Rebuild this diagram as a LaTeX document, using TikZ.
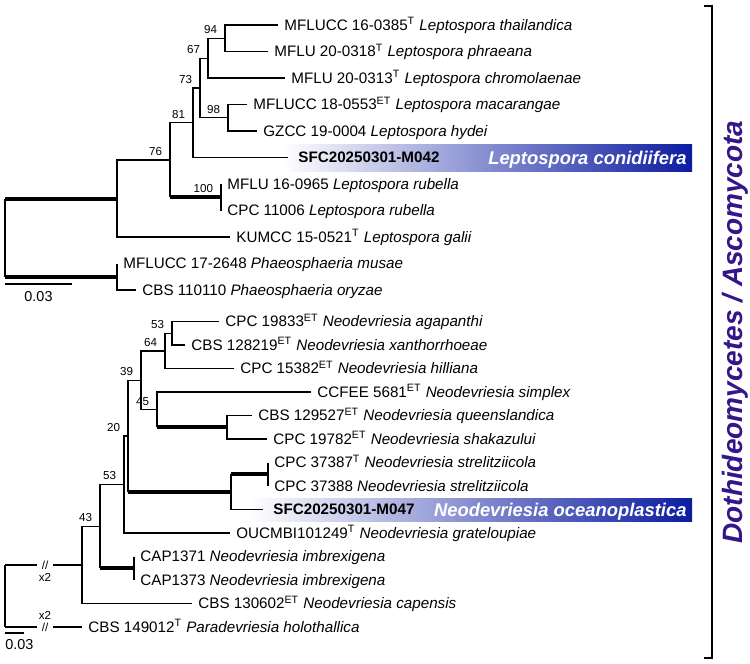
\documentclass[tikz,border=0pt]{standalone}
\usepackage{fontspec}
\setmainfont{Liberation Sans}

\definecolor{boxblue}{RGB}{12,28,160}
\definecolor{cladeviolet}{RGB}{52,22,138}
\newcommand{\typeT}{\textsuperscript{T}}
\newcommand{\typeET}{\textsuperscript{ET}}

\begin{document}
\begin{tikzpicture}[
  x=0.5pt, y=-0.5pt,
  font=\fontsize{7.6}{9}\selectfont,
  br/.style={line width=0.6pt},
  thk/.style={line width=2pt},
  taxon/.style={anchor=base west, inner sep=0pt, xshift=3pt, yshift=-2.7pt},
  newtaxon/.style={anchor=base west, inner sep=0pt, xshift=5pt, yshift=-2.7pt, font=\fontsize{7.6}{9}\selectfont\bfseries},
  boot/.style={anchor=base east, inner sep=0pt, xshift=-3.75pt, yshift=2.3pt, font=\fontsize{5.8}{7}\selectfont},
  hlbox/.style={left color=white, right color=boxblue, draw=none},
  hlname/.style={anchor=base east, inner sep=0pt, yshift=-3.3pt, text=white, font=\fontsize{9.2}{11}\selectfont\bfseries\itshape},
  brk/.style={inner sep=0pt, font=\fontsize{5.8}{7}\selectfont},
  scalelab/.style={inner sep=0pt, font=\fontsize{7.2}{8.6}\selectfont}
]
\useasboundingbox (0,0) rectangle (750,664);
\fill[white] (0,0) rectangle (750,664);

% Highlight boxes
\shade[hlbox] (283,144) rectangle (692,171);
\shade[hlbox] (250,498) rectangle (692,521);

% Leptospora tree: internal nodes
\coordinate (r1) at (5,237.6);
\coordinate (nA) at (117,198.5);
\coordinate (nPh) at (117,276.75);
\coordinate (n76) at (170,160);
\coordinate (n81) at (193,122.7);
\coordinate (n73) at (200,87.9);
\coordinate (n67) at (208,58.1);
\coordinate (n94) at (225,38.25);
\coordinate (n98) at (228,117.75);
\coordinate (n100) at (221,197.25);

% Leptospora tree: tips
\coordinate (t1) at (278,25);
\coordinate (t2) at (268,51.5);
\coordinate (t3) at (285,78);
\coordinate (t4) at (247,104.5);
\coordinate (t5) at (257,131);
\coordinate (t6) at (288,157.5);
\coordinate (t7) at (221,184);
\coordinate (t8) at (221,210.5);
\coordinate (t9) at (230,237);
\coordinate (t10) at (117,263.5);
\coordinate (t11) at (136,290);

% Leptospora tree: branches
\draw[thk] (nA) -- (nA -| r1);
\draw[thk] (nPh) -- (nPh -| r1);
\draw[br] (nA -| r1) -- (nPh -| r1);
\draw[br] (n76) -| (nA);
\draw[br] (t9) -| (nA);
\draw[br] (n81) -| (n76);
\draw[thk] (n100) -- (n100 -| n76);
\draw[br] (n100 -| n76) -- (n76);
\draw[br] (n73) -| (n81);
\draw[br] (t6) -| (n81);
\draw[br] (n67) -| (n73);
\draw[br] (n98) -| (n73);
\draw[br] (n94) -| (n67);
\draw[br] (t3) -| (n67);
\draw[br] (t1) -| (n94);
\draw[br] (t2) -| (n94);
\draw[br] (t4) -| (n98);
\draw[br] (t5) -| (n98);
\draw[br] (t7) -| (n100);
\draw[br] (t8) -| (n100);
\draw[br] (t10) -| (nPh);
\draw[br] (t11) -| (nPh);

% Leptospora tree: support values
\node[boot] (s94) at (n94) {94};
\node[boot] (s67) at (n67) {67};
\node[boot] (s73) at (n73) {73};
\node[boot] (s98) at (n98) {98};
\node[boot] (s81) at (n81) {81};
\node[boot] (s76) at (n76) {76};
\node[boot] (s100) at (n100) {100};

% Leptospora tree: taxa
\node[taxon] (l1) at (t1) {MFLUCC 16-0385\typeT\ \textit{Leptospora thailandica}};
\node[taxon] (l2) at (t2) {MFLU 20-0318\typeT\ \textit{Leptospora phraeana}};
\node[taxon] (l3) at (t3) {MFLU 20-0313\typeT\ \textit{Leptospora chromolaenae}};
\node[taxon] (l4) at (t4) {MFLUCC 18-0553\typeET\ \textit{Leptospora macarangae}};
\node[taxon] (l5) at (t5) {GZCC 19-0004 \textit{Leptospora hydei}};
\node[newtaxon] (l6) at (t6) {SFC20250301-M042};
\node[taxon] (l7) at (t7) {MFLU 16-0965 \textit{Leptospora rubella}};
\node[taxon] (l8) at (t8) {CPC 11006 \textit{Leptospora rubella}};
\node[taxon] (l9) at (t9) {KUMCC 15-0521\typeT\ \textit{Leptospora galii}};
\node[taxon] (l10) at (t10) {MFLUCC 17-2648 \textit{Phaeosphaeria musae}};
\node[taxon] (l11) at (t11) {CBS 110110 \textit{Phaeosphaeria oryzae}};
\node[hlname] (sp1) at (687,157.5) {Leptospora conidiifera};

% Leptospora tree: scale
\coordinate (sc1a) at (5,284);
\coordinate (sc1b) at (72,284);
\draw[br] (sc1a) -- (sc1b);
\node[scalelab] (sc1) at (38.5,297) {0.03};

% Neodevriesia tree: internal nodes
\coordinate (r2) at (5,596);
\coordinate (nX) at (82,565);
\coordinate (n43) at (100,526.4);
\coordinate (nImb) at (134,568.25);
\coordinate (n53b) at (124,484.5);
\coordinate (n20) at (128,436);
\coordinate (nOc) at (231,491.9);
\coordinate (nStr) at (268,474.25);
\coordinate (n39) at (141,380.2);
\coordinate (n45) at (157,409.6);
\coordinate (nQ) at (227,427.25);
\coordinate (n64) at (165,350.9);
\coordinate (n53a) at (172,333.25);

% Neodevriesia tree: tips
\coordinate (b1) at (219,321.5);
\coordinate (b2) at (185,345);
\coordinate (b3) at (234,368.5);
\coordinate (b4) at (311,392);
\coordinate (b5) at (252,415.5);
\coordinate (b6) at (267,439);
\coordinate (b7) at (268,462.5);
\coordinate (b8) at (268,486);
\coordinate (b9) at (263,509.5);
\coordinate (b10) at (230,533);
\coordinate (b11) at (134,556.5);
\coordinate (b12) at (134,580);
\coordinate (b13) at (192,603.5);
\coordinate (b14) at (82,627);

% Neodevriesia tree: broken basal branches
\coordinate (k1a) at (37,565);
\coordinate (k1b) at (53,565);
\coordinate (k2a) at (37,627);
\coordinate (k2b) at (53,627);
\draw[br] (nX -| r2) -- (b14 -| r2);
\draw[br] (nX -| r2) -- (k1a);
\draw[br] (k1b) -- (nX);
\draw[br] (b14 -| r2) -- (k2a);
\draw[br] (k2b) -- (b14);
\node[brk] (cut1) at (45,565) {//};
\node[brk] (cut2) at (45,627) {//};
\node[brk] (x2a) at (45,577) {x2};
\node[brk] (x2b) at (45,615) {x2};

% Neodevriesia tree: branches
\draw[br] (n43) -| (nX);
\draw[br] (b13) -| (nX);
\draw[br] (n53b) -| (n43);
\draw[thk] (nImb) -- (nImb -| n43);
\draw[br] (nImb -| n43) -- (n43);
\draw[br] (b11) -| (nImb);
\draw[br] (b12) -| (nImb);
\draw[br] (n20) -| (n53b);
\draw[br] (b10) -| (n53b);
\draw[br] (n39) -| (n20);
\draw[thk] (nOc) -- (nOc -| n20);
\draw[br] (nOc -| n20) -- (n20);
\draw[thk] (nStr) -- (nStr -| nOc);
\draw[br] (nStr -| nOc) -- (nOc);
\draw[br] (b9) -| (nOc);
\draw[br] (b7) -| (nStr);
\draw[br] (b8) -| (nStr);
\draw[br] (n64) -| (n39);
\draw[br] (n45) -| (n39);
\draw[br] (b4) -| (n45);
\draw[thk] (nQ) -- (nQ -| n45);
\draw[br] (nQ -| n45) -- (n45);
\draw[br] (b5) -| (nQ);
\draw[br] (b6) -| (nQ);
\draw[br] (n53a) -| (n64);
\draw[br] (b3) -| (n64);
\draw[br] (b1) -| (n53a);
\draw[br] (b2) -| (n53a);

% Neodevriesia tree: support values
\node[boot] (s53a) at (n53a) {53};
\node[boot] (s64) at (n64) {64};
\node[boot] (s39) at (n39) {39};
\node[boot] (s45) at (n45) {45};
\node[boot] (s20) at (n20) {20};
\node[boot] (s53b) at (n53b) {53};
\node[boot] (s43) at (n43) {43};

% Neodevriesia tree: taxa
\node[taxon] (m1) at (b1) {CPC 19833\typeET\ \textit{Neodevriesia agapanthi}};
\node[taxon] (m2) at (b2) {CBS 128219\typeET\ \textit{Neodevriesia xanthorrhoeae}};
\node[taxon] (m3) at (b3) {CPC 15382\typeET\ \textit{Neodevriesia hilliana}};
\node[taxon] (m4) at (b4) {CCFEE 5681\typeET\ \textit{Neodevriesia simplex}};
\node[taxon] (m5) at (b5) {CBS 129527\typeET\ \textit{Neodevriesia queenslandica}};
\node[taxon] (m6) at (b6) {CPC 19782\typeET\ \textit{Neodevriesia shakazului}};
\node[taxon] (m7) at (b7) {CPC 37387\typeT\ \textit{Neodevriesia strelitziicola}};
\node[taxon] (m8) at (b8) {CPC 37388 \textit{Neodevriesia strelitziicola}};
\node[newtaxon] (m9) at (b9) {SFC20250301-M047};
\node[taxon] (m10) at (b10) {OUCMBI101249\typeT\ \textit{Neodevriesia grateloupiae}};
\node[taxon] (m11) at (b11) {CAP1371 \textit{Neodevriesia imbrexigena}};
\node[taxon] (m12) at (b12) {CAP1373 \textit{Neodevriesia imbrexigena}};
\node[taxon] (m13) at (b13) {CBS 130602\typeET\ \textit{Neodevriesia capensis}};
\node[taxon] (m14) at (b14) {CBS 149012\typeT\ \textit{Paradevriesia holothallica}};
\node[hlname] (sp2) at (687,509.5) {Neodevriesia oceanoplastica};

% Neodevriesia tree: scale
\coordinate (sc2a) at (5,633);
\coordinate (sc2b) at (24,633);
\draw[br] (sc2a) -- (sc2b);
\node[scalelab, anchor=west] (sc2) at (5,645) {0.03};

% Class bracket
\coordinate (bk1) at (704,6);
\coordinate (bk2) at (712,6);
\coordinate (bk3) at (712,658);
\coordinate (bk4) at (704,658);
\draw[line width=1.3pt] (bk1) -- (bk2) -- (bk3) -- (bk4);
\node[rotate=90, inner sep=0pt, text=cladeviolet, font=\fontsize{14}{16}\selectfont\bfseries\itshape] (clade) at (735,332) {Dothideomycetes / Ascomycota};

\end{tikzpicture}
\end{document}
